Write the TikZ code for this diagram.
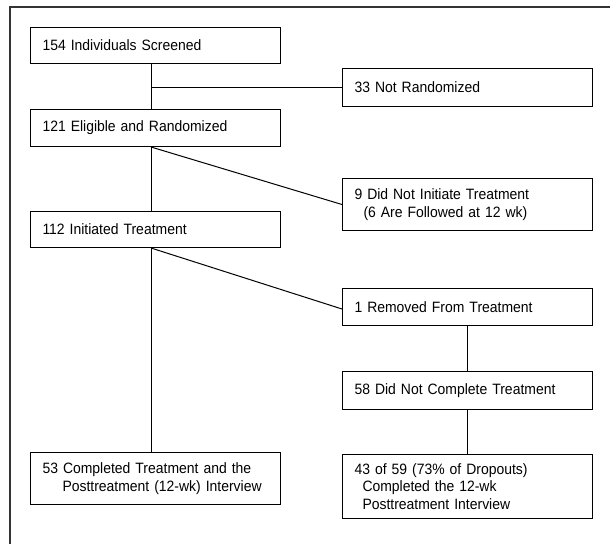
\documentclass[tikz,border=0pt]{standalone}
\usepackage{fontspec}
\setmainfont[FakeStretch=0.93]{Liberation Sans}
\usepackage{tikz}
\usetikzlibrary{positioning}

\tikzset{
    box/.style={draw, line width=1pt, rectangle, anchor=north west,
        minimum width=250pt, text width=226pt, inner xsep=12pt,
        align=left, font=\fontsize{15}{17.5}\selectfont},
    link/.style={line width=1pt}
}

\begin{document}
\begin{tikzpicture}[x=1pt, y=-1pt]
        \useasboundingbox (0,0) rectangle (610,544);
        % frame
        \draw[line width=1.3pt, black!80] (10,544) -- (10,7) -- (610,7);

        % left column
        \node[box, minimum height=36pt] (scr) at (30,27) {154 Individuals Screened};
        \node[box, minimum height=37pt] (elig) at (30,109) {121 Eligible and Randomized};
        \node[box, minimum height=36pt] (init) at (30,211) {112 Initiated Treatment};
        \node[box, minimum height=52pt] (ctp) at (30,452)
            {53 Completed Treatment and the\\\hspace*{20pt}Posttreatment (12-wk) Interview};

        % right column
        \node[box, minimum height=38pt] (notr) at (342,68) {33 Not Randomized};
        \node[box, minimum height=52pt] (dnit) at (342,178)
            {9 Did Not Initiate Treatment\\\hspace*{9pt}(6 Are Followed at 12 wk)};
        \node[box, minimum height=37pt] (rem) at (342,288) {1 Removed From Treatment};
        \node[box, minimum height=38pt] (dnc) at (342,371) {58 Did Not Complete Treatment};
        \node[box, minimum height=64pt] (comp) at (342,454)
            {43 of 59 (73\% of Dropouts)\\\hspace*{8pt}Completed the 12-wk\\\hspace*{8pt}Posttreatment Interview};

        \coordinate (trunk) at (151,0);

        % connectors
        \draw[link] (scr.south -| trunk) -- (elig.north -| trunk);
        \draw[link] (notr.west -| trunk) -- (notr.west);
        \draw[link] (elig.south -| trunk) -- (init.north -| trunk);
        \draw[link] (elig.south -| trunk) -- (dnit.west);
        \draw[link] (init.south -| trunk) -- (ctp.north -| trunk);
        \draw[link] (init.south -| trunk) -- ([yshift=-2pt]rem.west);
        \draw[link] (rem) -- (dnc);
        \draw[link] (dnc) -- (comp);
\end{tikzpicture}
\end{document}
